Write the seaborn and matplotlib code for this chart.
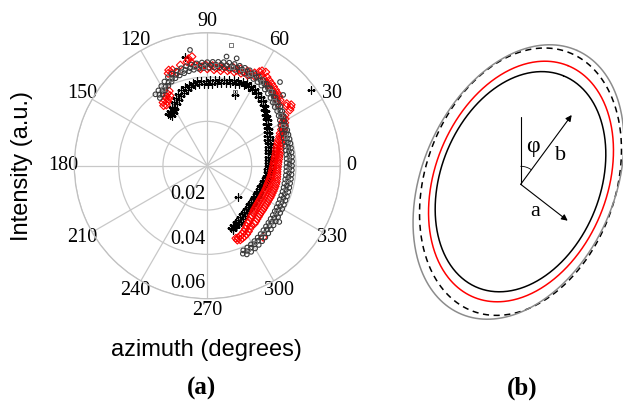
import numpy as np
import pandas as pd
import matplotlib
matplotlib.use("Agg")
import matplotlib.pyplot as plt
import seaborn as sns

# ---------------- (a) polar scatter data: (azimuth in degrees, intensity) ----------------
plus_pts = [(127,.0292),(125.5,.0278),(124,.0297),(122.5,.0283),(121,.0309),(119.5,.0295),(118,.0323),(116.5,.0309),
            (115,.0337),(113.5,.0323),(112,.0349),(110.5,.0335),(109,.0359),(107.5,.0345),(106,.0368),(104.5,.0354),
            (103,.0375),(101.5,.0361),(100,.0380),(98.5,.0366),(97,.0383),(95.5,.0369),(94,.0383),(92.5,.0369),
            (91,.0384),(89.5,.0370),(88,.0385),(86.5,.0371),(85,.0388),(83.5,.0374),(82,.0391),(80.5,.0377),
            (79,.0395),(77.5,.0381),(76,.0400),(74.5,.0386),(73,.0405),(71.5,.0391),(70,.0409),(68.5,.0395),
            (67,.0412),(65.5,.0398),(64,.0413),(62.5,.0399),(61,.0411),(59.5,.0397),(58,.0408),(56.5,.0394),
            (55,.0402),(53.5,.0388),(52,.0394),(50.5,.0380),(49,.0384),(47.5,.0370),(46,.0373),(44.5,.0359),
            (43,.0361),(41.5,.0347),(40,.0350),(38.5,.0336),(37,.0341),(35.5,.0327),(34,.0333),(32.5,.0319),
            (31,.0325),(29.5,.0311),(28,.0317),(26.5,.0303),(25,.0310),(23.5,.0296),(22,.0305),(20.5,.0291),
            (19,.0301),(17.5,.0287),(16,.0298),(14.5,.0284),(13,.0295),(11.5,.0281),(10,.0293),(8.5,.0279),
            (7,.0291),(5.5,.0277),(4,.0290),(2.5,.0276),(1,.0288),(-0.5,.0274),(-2,.0286),(-3.5,.0272),
            (-5,.0284),(-6.5,.0270),(-8,.0282),(-9.5,.0268),(-11,.0279),(-12.5,.0265),(-14,.0276),(-15.5,.0262),
            (-17,.0273),(-18.5,.0259),(-20,.0270),(-21.5,.0256),(-23,.0268),(-24.5,.0254),(-26,.0267),(-27.5,.0253),
            (-29,.0267),(-30.5,.0253),(-32,.0268),(-33.5,.0254),(-35,.0269),(-36.5,.0255),(-38,.0270),(-39.5,.0256),
            (-41,.0271),(-42.5,.0257),(-44,.0273),(-45.5,.0259),(-47,.0276),(-48.5,.0262),(-50,.0280),(-51.5,.0266),
            (-53,.0284),(-54.5,.0270),(-56,.0289),(-57.5,.0275),(-59,.0294),(-60.5,.0280),(-62,.0300),(-63.5,.0286),
            (-65,.0307),(-66.5,.0293),(-68,.0315),(-69,.0301),
            (126,.0284),(124,.0289),(122,.0293),(120,.0301),(-66,.0303),(-68,.0306),(-64,.0296),
            (68.6,.0343),(36,.0580),(-45.5,.0200),(101.6,.0500)]

diamond_pts = [(126,.0335),(125,.0348),(124,.0330),(123,.0352),(122,.0340),(121,.0362),(120,.0348),(119,.0372),(118,.0358),(117,.0378),
               (113,.0452),(112,.0465),(111,.0448),(110,.0460),(108,.0442),(105,.0470),(101,.0478),(100,.0490),(99,.0472),(98,.0497),(97,.0458),
               (95,.0452),(94,.0438),(93,.0447),(91,.0455),(90,.0437),(89,.0446),(87,.0452),(86,.0434),(85,.0443),
               (83,.0450),(82,.0433),(81,.0444),(79,.0456),(78,.0438),(77,.0447),(75,.0458),(74,.0440),(73,.0450),
               (71,.0462),(70,.0444),(69,.0453),(67,.0464),(66,.0447),(65,.0456),
               (63,.0470),(62,.0456),(61,.0485),(60,.0494),(59,.0476),(58,.0498),(57,.0468),(56,.0482),(55,.0462),
               (54,.0475),(53,.0458),(52,.0470),(51,.0452),(50,.0465),(49,.0448),(48,.0460),(47,.0445),(46,.0455),
               (45,.0440),(44,.0450),(43,.0432),(42,.0442),(41,.0425),
               (38,.0455),(37,.0447),(36,.0468),(35,.0460),(34,.0450),
               (33,.0418),(32,.0404),(31,.0410),(30,.0392),(29,.0400),(28,.0382),(27,.0390),(26,.0372),(25,.0380),
               (24,.0360),(23,.0370),(22,.0352),(21,.0362),(20,.0342),(19,.0354),(18,.0334),(17,.0348),(16,.0328),
               (15,.0342),(14,.0322),(13,.0338),(12,.0318),(11,.0334),(10,.0314),(9,.0330),(8,.0310),(7,.0326),
               (6,.0306),(5,.0323),(4,.0303),(3,.0320),(2,.0300),(1,.0318),(0,.0298),(-1,.0317),(-2,.0296),
               (-3,.0316),(-4,.0294),(-5,.0316),(-6,.0293),(-7,.0317),(-8,.0292),(-9,.0318),(-10,.0290),(-11,.0319),
               (-12,.0288),(-13,.0320),(-14,.0287),(-15,.0320),(-16,.0286),(-17,.0320),(-18,.0285),(-19,.0319),(-20,.0285),
               (-21,.0319),(-22,.0284),(-23,.0318),(-24,.0284),(-25,.0318),(-26,.0283),(-27,.0318),(-28,.0283),(-29,.0317),
               (-30,.0283),(-31,.0317),(-32,.0283),(-33,.0318),(-34,.0283),(-35,.0318),(-36,.0284),(-37,.0319),(-38,.0285),
               (-39,.0320),(-40,.0287),(-41,.0321),(-42,.0289),(-43,.0323),(-44,.0292),(-45,.0326),(-46,.0296),(-47,.0329),
               (-48,.0300),(-49,.0333),(-50,.0305),(-51,.0337),(-52,.0410),(-53,.0312),(-54,.0335),(-55,.0318),(-56,.0343),
               (-57,.0325),(-58,.0350),(-59,.0333),(-60,.0356),(-61,.0340),(-62,.0360),(-63,.0346),(-64,.0363),(-65,.0350),
               (-66,.0366),(-67,.0354),(-68,.0362),(-68.5,.0352)]

circle_pts = [(126,.0398),(125,.0373),(124,.0386),(123,.0405),(122,.0380),(121,.0393),(120,.0415),(119,.0390),(118,.0403),
              (117,.0426),(116,.0401),(115,.0414),(114,.0437),(113,.0412),(112,.0425),(111,.0445),(110,.0420),(109,.0433),
              (108,.0451),(107,.0426),(106,.0439),(105,.0455),(104,.0430),(103,.0443),(102,.0459),(101,.0434),(100,.0447),
              (99,.0462),(98,.0437),(97,.0450),(96,.0464),(95,.0439),(94,.0452),(93,.0466),(92,.0441),(91,.0454),
              (90,.0467),(89,.0442),(88,.0455),(87,.0469),(86,.0444),(85,.0457),(84,.0471),(83,.0446),(82,.0459),
              (81,.0473),(80,.0448),(79,.0461),(78,.0475),(77,.0450),(76,.0463),(75,.0475),(74,.0450),(73,.0463),
              (72,.0474),(71,.0449),(70,.0462),(69,.0473),(68,.0448),(67,.0461),(66,.0471),(65,.0446),(64,.0459),
              (63,.0468),(62,.0443),(61,.0456),(60,.0465),(59,.0440),(58,.0453),(57,.0461),(56,.0436),(55,.0449),
              (54,.0456),(53,.0431),(52,.0444),(51,.0450),(50,.0425),(49,.0438),(48,.0443),(47,.0418),(46,.0431),
              (45,.0436),(44,.0411),(43,.0424),(42,.0428),(41,.0403),(40,.0416),(39,.0425),(38,.0400),(37,.0413),
              (36,.0418),(35,.0393),(34,.0406),(33,.0411),(32,.0386),(31,.0399),(30,.0402),(29,.0377),(28,.0390),
              (27,.0398),(26,.0373),(25,.0386),(24,.0395),(23,.0370),(22,.0383),(21,.0392),(20,.0367),(19,.0380),
              (18,.0390),(17,.0365),(16,.0378),(15,.0388),(14,.0363),(13,.0376),(12,.0386),(11,.0361),(10,.0374),
              (9,.0385),(8,.0360),(7,.0373),(6,.0384),(5,.0359),(4,.0372),(3,.0383),(2,.0358),(1,.0371),
              (0,.0382),(-1,.0357),(-2,.0370),(-3,.0382),(-4,.0357),(-5,.0370),(-6,.0382),(-7,.0357),(-8,.0370),
              (-9,.0382),(-10,.0357),(-11,.0370),(-12,.0382),(-13,.0357),(-14,.0370),(-15,.0383),(-16,.0358),(-17,.0371),
              (-18,.0384),(-19,.0359),(-20,.0372),(-21,.0385),(-22,.0360),(-23,.0373),(-24,.0386),(-25,.0361),(-26,.0374),
              (-27,.0388),(-28,.0363),(-29,.0376),(-30,.0390),(-31,.0365),(-32,.0378),(-33,.0392),(-34,.0367),(-35,.0380),
              (-36,.0395),(-37,.0370),(-38,.0383),(-39,.0398),(-40,.0373),(-41,.0386),(-42,.0402),(-43,.0377),(-44,.0390),
              (-45,.0406),(-46,.0381),(-47,.0394),(-48,.0411),(-49,.0386),(-50,.0399),(-51,.0416),(-52,.0391),(-53,.0404),
              (-54,.0421),(-55,.0396),(-56,.0409),(-57,.0426),(-58,.0401),(-59,.0414),(-60,.0431),(-61,.0406),(-62,.0419),
              (-63,.0436),(-64,.0411),(-65,.0424),(-66,.0438),(-67,.0415),(-68,.0428),
              (98.5,.0528),(80,.0500),(74.7,.0502),(49,.0500),(43,.0468),(-38,.0412)]

square_pts = [(79,.0554),(120,.0400),(113,.0425),(105,.0440),(97,.0450),(92,.0445),(85,.0455),(76,.0460),
              (70,.0462),(69.5,.0357),(65,.0458),(57,.0450),(50,.0438),(44,.0420),(35,.0400),(28,.0386),
              (20,.0376),(12,.0370),(5,.0367),(-2,.0366),(-10,.0365),(-18,.0366),(-26,.0368),(-34,.0372),
              (-42,.0380),(-50,.0393),(-58,.0408),(-64,.0420)]

theta_tick_deg = [0, 30, 60, 90, 120, 150, 180, 210, 240, 270, 300, 330]
r_ticks = [0.02, 0.04, 0.06]
r_tick_labels = ["0.02", "0.04", "0.06"]

# ---------------- (b) schematic ellipses (pixel units of panel b) ----------------
ell_cx = [520.5, 521.0, 520.5, 518.5]
ell_cy = [181.7, 181.5, 181.7, 182.0]
ell_semi_major = [114.3, 125.0, 138.0, 144.0]
ell_semi_minor = [79.6, 86.0, 95.0, 96.0]
ell_tilt_deg = [22, 22, 20, 24]
ell_colors = ["black", "red", "black", "#8c8c8c"]
ell_styles = ["-", "-", (0, (4, 3)), "-"]

# ---------------- figure ----------------
sns.set_style("white")
plt.rcParams["font.family"] = ["Liberation Serif", "DejaVu Serif"]
plt.rcParams["text.color"] = "black"
plt.rcParams["axes.labelcolor"] = "black"
plt.rcParams["xtick.color"] = "black"
plt.rcParams["ytick.color"] = "black"
W, H = 623, 401
fig = plt.figure(figsize=(W / 100, H / 100), dpi=100)

cx, cy, R = 207.3, 165.7, 133.0
ax = fig.add_axes([(cx - R) / W, (H - cy - R) / H, 2 * R / W, 2 * R / H], projection="polar")

def frame(pts, name):
    d = pd.DataFrame(pts, columns=["deg", "r"])
    d["theta"] = np.deg2rad(d["deg"])
    d["series"] = name
    return d

df_plus = frame(plus_pts, "plus")
df_dia = frame(diamond_pts, "diamond")
df_cir = frame(circle_pts, "circle")
df_sq = frame(square_pts, "square")

sns.scatterplot(data=df_plus, x="theta", y="r", ax=ax, marker="+", color="black",
                s=34, linewidth=0.9, legend=False, zorder=3)
sns.scatterplot(data=df_dia, x="theta", y="r", ax=ax, marker="D", facecolor="none",
                edgecolor="red", s=16, linewidth=0.8, legend=False, zorder=4)
sns.scatterplot(data=df_cir, x="theta", y="r", ax=ax, marker="o", facecolor="none",
                edgecolor="#3a3a3a", s=11, linewidth=0.8, legend=False, zorder=5)
sns.scatterplot(data=df_sq, x="theta", y="r", ax=ax, marker="s", facecolor="none",
                edgecolor="#777777", s=7, linewidth=0.7, legend=False, zorder=5)

ax.set_ylim(0, 0.06)
ax.set_yticks(r_ticks)
ax.set_yticklabels([])
ax.set_xticks(np.deg2rad(theta_tick_deg))
ax.set_xticklabels([str(t) for t in theta_tick_deg], fontsize=14.5)
ax.tick_params(axis="x", pad=1.2, length=0)
ax.tick_params(axis="y", length=0)
ax.grid(True, color="#c8c8c8", linewidth=0.9)
ax.spines["polar"].set_color("#c0c0c0")
ax.spines["polar"].set_linewidth(0.9)
ax.set_xlabel("")
ax.set_ylabel("")
for v, lab in zip(r_ticks, r_tick_labels):
    ax.annotate(lab, xy=(np.deg2rad(270), v), xytext=(-1, 7.6), textcoords="offset points",
                ha="right", va="baseline", fontsize=14.5)

fig.text(21.7 / W, 1 - 166 / H, "Intensity (a.u.)", rotation=90, ha="center", va="center",
         family=["Liberation Sans"], fontsize=17)
fig.text(206 / W, 1 - 356 / H, "azimuth (degrees)", ha="center", va="baseline",
         family=["Liberation Sans"], fontsize=17)
fig.text(201.7 / W, 1 - 395 / H, "(a)", ha="center", va="baseline", fontweight="bold", fontsize=18)
fig.text(522.5 / W, 1 - 395 / H, "(b)", ha="center", va="baseline", fontweight="bold", fontsize=18)

# panel (b)
ax2 = fig.add_axes([380 / W, 0, (W - 380) / W, 1])
ax2.set_xlim(380, W)
ax2.set_ylim(H, 0)
ax2.axis("off")
t = np.linspace(0, 2 * np.pi, 500)
for x0, y0, A, B, tilt, col, ls in zip(ell_cx, ell_cy, ell_semi_major, ell_semi_minor,
                                        ell_tilt_deg, ell_colors, ell_styles):
    p = np.deg2rad(tilt)
    xs = x0 + A * np.cos(t) * np.sin(p) + B * np.sin(t) * np.cos(p)
    ys = y0 - A * np.cos(t) * np.cos(p) + B * np.sin(t) * np.sin(p)
    ax2.plot(xs, ys, color=col, linestyle=ls, linewidth=1.1, clip_on=False)

ox, oy = 520.7, 184.3
arrow_kw = dict(arrowstyle="-|>", color="black", lw=0.8, mutation_scale=9, shrinkA=0, shrinkB=0)
ax2.annotate("", xy=(571.7, 115.0), xytext=(ox, oy), arrowprops=arrow_kw)
ax2.annotate("", xy=(567.7, 220.7), xytext=(ox, oy), arrowprops=arrow_kw)
ax2.plot([ox, ox], [oy, 117.3], color="black", linewidth=0.8)
ang_b = np.arctan2(115.0 - oy, 571.7 - ox)
arc_t = np.linspace(-np.pi / 2, ang_b, 30)
ax2.plot(ox + 18 * np.cos(arc_t), oy + 18 * np.sin(arc_t), color="black", linewidth=0.6)
ax2.text(533.3, 146.7, "φ", ha="center", va="center", fontsize=17)
ax2.text(561.0, 156.0, "b", ha="center", va="center", fontsize=16)
ax2.text(535.0, 211.7, "a", ha="center", va="center", fontsize=16)

fig.savefig("out.png", dpi=100)
